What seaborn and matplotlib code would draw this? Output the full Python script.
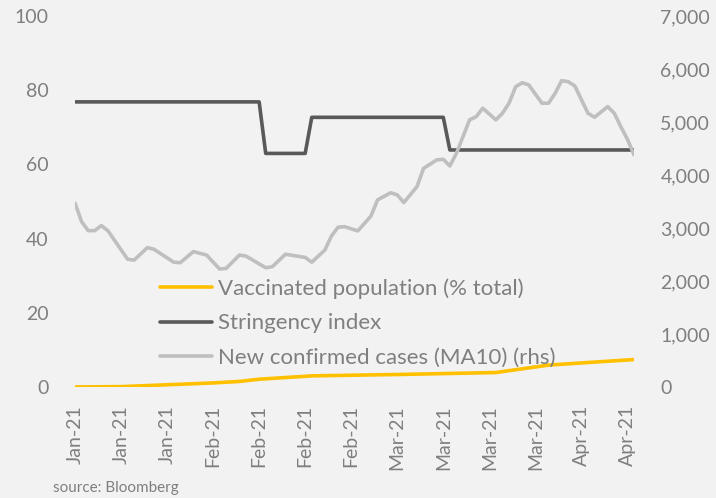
import numpy as np
import pandas as pd
import seaborn as sns
import matplotlib.pyplot as plt
import matplotlib.dates as mdates
from matplotlib.ticker import FuncFormatter

# ------------------- data -------------------
start = pd.Timestamp("2021-01-17")

vacc_days = [0, 7, 14, 21, 25, 28, 36, 43, 50, 64, 68, 72, 78, 85]
vacc_vals = [0.0, 0.1, 0.6, 1.1, 1.5, 2.1, 3.0, 3.2, 3.4, 3.9, 4.9, 5.9, 6.6, 7.4]

string_days = [0, 28, 29, 35, 36, 56, 57, 85]
string_vals = [76.85, 76.85, 62.96, 62.96, 72.69, 72.69, 63.89, 63.89]

case_days = [0, 1, 2, 3, 4, 5, 8, 9, 11, 12, 15, 16, 18, 20, 22, 23, 25, 26,
             29, 30, 32, 35, 36, 38, 39, 40, 41, 43, 45, 46, 48, 49, 50, 52,
             53, 55, 56, 57, 58, 60, 61, 62, 64, 65, 66, 67, 68, 69, 71, 72,
             73, 74, 75, 76, 78, 79, 81, 82, 83, 84, 85]
case_vals = [3470, 3120, 2950, 2950, 3045, 2950, 2410, 2395, 2630, 2600, 2355,
             2345, 2555, 2490, 2225, 2240, 2490, 2470, 2250, 2270, 2505, 2445,
             2355, 2585, 2850, 3015, 3025, 2945, 3225, 3530, 3665, 3625, 3480,
             3780, 4125, 4285, 4295, 4170, 4410, 5040, 5100, 5260, 5040, 5165,
             5355, 5665, 5740, 5700, 5355, 5355, 5540, 5780, 5760, 5680, 5165,
             5090, 5290, 5165, 4910, 4675, 4380]

tick_days = list(range(0, 85, 7))

labels = ["Vaccinated population (% total)", "Stringency index",
          "New confirmed cases (MA10) (rhs)"]

# ------------------- styling -------------------
bg = "#F2F2F2"
txt = "#7F7F7F"
c_vacc = "#FFC000"
c_str = "#595959"
c_case = "#BFBFBF"

sns.set_theme(style="white")
plt.rcParams["font.family"] = ["Lato", "DejaVu Sans"]
plt.rcParams["text.color"] = txt

def to_dates(days):
    return start + pd.to_timedelta(days, unit="D")

vacc = pd.DataFrame({"date": to_dates(vacc_days), "v": vacc_vals})
strin = pd.DataFrame({"date": to_dates(string_days), "v": string_vals})
cases = pd.DataFrame({"date": to_dates(case_days), "v": case_vals})

fig = plt.figure(figsize=(7.16, 4.98), dpi=100, facecolor=bg)
ax = fig.add_axes([75 / 716, 111 / 498, 559 / 716, 371 / 498])
ax.set_facecolor(bg)
ax2 = ax.twinx()

lw = 2.6
sns.lineplot(data=vacc, x="date", y="v", ax=ax, color=c_vacc, lw=lw)
sns.lineplot(data=strin, x="date", y="v", ax=ax, color=c_str, lw=lw)
sns.lineplot(data=cases, x="date", y="v", ax=ax2, color=c_case, lw=lw)

ax.set_ylim(0, 100)
ax2.set_ylim(0, 7000)
ax.set_yticks(range(0, 101, 20))
ax2.set_yticks(range(0, 7001, 1000))
ax2.yaxis.set_major_formatter(FuncFormatter(lambda v, p: f"{int(v):,}"))
ax.set_xlim(to_dates([0])[0], to_dates([85])[0])
ax.set_xticks(to_dates(tick_days))
ax.xaxis.set_major_formatter(mdates.DateFormatter("%b-%y"))

for a in (ax, ax2):
    a.set_xlabel("")
    a.set_ylabel("")
    for s in a.spines.values():
        s.set_visible(False)
    a.tick_params(length=0, colors=txt, labelsize=14)
ax.tick_params(axis="y", pad=19)
ax2.tick_params(axis="y", pad=19)
ax.tick_params(axis="x", pad=13, rotation=90)

handles = ax.get_lines()[:2] + ax2.get_lines()[:1]
leg = ax2.legend(handles, labels, loc="center left",
                 bbox_to_anchor=(160 / 716, 175 / 498),
                 bbox_transform=fig.transFigure, frameon=False,
                 fontsize=16, handlelength=2.35, handletextpad=0.27,
                 labelspacing=0.65, borderpad=0, borderaxespad=0)
for t in leg.get_texts():
    t.set_color(txt)

fig.text(53 / 716, 10 / 498, "source: Bloomberg", fontsize=11, color=txt,
         va="center", ha="left")

fig.savefig("out.png", dpi=100, facecolor=bg)
